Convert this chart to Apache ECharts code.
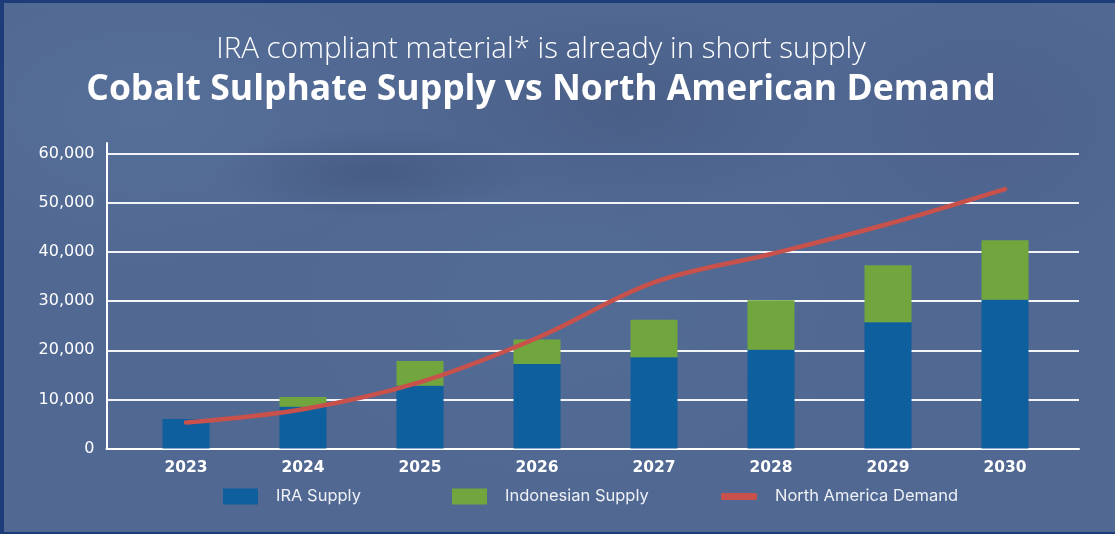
<!DOCTYPE html>
<html>
<head>
<meta charset="utf-8">
<script src="https://cdn.jsdelivr.net/npm/echarts@6/dist/echarts.min.js"></script>
<style>
  html, body { margin: 0; padding: 0; background: #506892; }
  body { width: 1115px; height: 534px; overflow: hidden; }
  #frame {
    position: relative;
    width: 1115px; height: 534px; box-sizing: border-box;
    border: 0 solid #1f3c7a;
    border-top-width: 3px; border-left-width: 4px; border-bottom-width: 2px; border-right-width: 0;
    background:
      radial-gradient(ellipse 160px 45px at 370px 170px, rgba(45,58,92,0.28), rgba(45,58,92,0) 100%),
      radial-gradient(ellipse 220px 110px at 620px 110px, rgba(50,62,100,0.22), rgba(50,62,100,0) 100%),
      radial-gradient(ellipse 260px 160px at 140px 110px, rgba(110,140,180,0.2), rgba(110,140,180,0) 100%),
      radial-gradient(ellipse 300px 200px at 560px 300px, rgba(95,125,165,0.18), rgba(95,125,165,0) 100%),
      radial-gradient(ellipse 200px 150px at 980px 120px, rgba(70,80,125,0.2), rgba(70,80,125,0) 100%),
      #506892;
  }
  #chart { position: absolute; left: -4px; top: -3px; width: 1115px; height: 534px; }
</style>
</head>
<body>
<div id="frame"><div id="chart"></div></div>
<script>
// Cobalt sulphate: supply by source vs North American demand (tonnes)
const years = ['2023', '2024', '2025', '2026', '2027', '2028', '2029', '2030'];
const iraSupply = [6000, 8500, 12800, 17200, 18600, 20100, 25700, 30300];
const indonesianSupply = [0, 2000, 5000, 5000, 7600, 10100, 11600, 12100];
const northAmericaDemand = [5300, 8000, 13500, 22500, 33800, 39600, 45700, 52800];
const yTicks = [0, 10000, 20000, 30000, 40000, 50000, 60000];

const subtitleText = 'IRA compliant material* is already in short supply';
const titleText = 'Cobalt Sulphate Supply vs North American Demand';
const seriesNames = ['IRA Supply', 'Indonesian Supply', 'North America Demand'];
const colors = { ira: '#0e5f9d', indo: '#71a63f', demand: '#c8514b' };

const W = 1115;
// value axis tops out a little above the last tick so the axis line overshoots it
const yMax = 62200;
const fontUI = 'Inter, "Noto Sans", sans-serif';
const fontAxis = '"DejaVu Sans", Inter, sans-serif';
const titleX = 541;

const chart = echarts.init(document.getElementById('chart'), null, { renderer: 'canvas' });

const yAxisBase = {
  type: 'value', min: 0, max: yMax, interval: 10000
};

const legendText = { color: '#eef1f6', fontFamily: fontUI, fontSize: 16.5, padding: [0, 0, 0, 13] };

const option = {
  backgroundColor: 'transparent',
  animation: false,
  title: [
    {
      text: subtitleText, left: titleX, textAlign: 'center', top: 35, padding: 0,
      textStyle: { color: '#ffffff', fontFamily: '"Open Sans", sans-serif', fontWeight: 300, fontSize: 29.5 }
    },
    {
      text: titleText, left: titleX, textAlign: 'center', top: 72, padding: 0,
      textStyle: { color: '#ffffff', fontFamily: '"Open Sans", sans-serif', fontWeight: 700, fontSize: 35.5 }
    }
  ],
  grid: [
    // frame grid: y axis, gridlines and baseline
    { left: 106.5, right: W - 1079, top: 143, bottom: 85.5 },
    // plot grid: bars and demand line
    { left: 127.5, right: W - 1063.5, top: 143, bottom: 85.5 }
  ],
  xAxis: [
    {
      gridIndex: 0, type: 'value', min: 0, max: 1,
      axisLine: { show: true, lineStyle: { color: '#ffffff', width: 2 } },
      axisTick: { show: false }, axisLabel: { show: false }, splitLine: { show: false }
    },
    {
      gridIndex: 1, type: 'category', data: years,
      axisLine: { show: false }, axisTick: { show: false },
      axisLabel: { color: '#ffffff', fontFamily: fontAxis, fontWeight: 'bold', fontSize: 15.5, margin: 11 }
    }
  ],
  yAxis: [
    Object.assign({}, yAxisBase, {
      gridIndex: 0,
      axisLine: { show: true, lineStyle: { color: '#ffffff', width: 2 } },
      axisTick: { show: false },
      axisLabel: {
        color: '#ffffff', fontFamily: fontAxis, fontSize: 16, margin: 12,
        showMaxLabel: false,
        formatter: v => yTicks.includes(v) ? v.toLocaleString('en-US') : ''
      },
      splitLine: { show: true, showMaxLine: false, lineStyle: { color: '#f2f4f8', width: 2 } }
    }),
    Object.assign({}, yAxisBase, {
      gridIndex: 1, show: false, splitLine: { show: false }
    })
  ],
  legend: [
    {
      data: [seriesNames[0]], left: 223, top: 488, padding: 0, itemWidth: 35, itemHeight: 16, icon: 'rect',
      textStyle: legendText
    },
    {
      data: [seriesNames[1]], left: 452, top: 488, padding: 0, itemWidth: 35, itemHeight: 16, icon: 'rect',
      textStyle: legendText
    },
    {
      data: [seriesNames[2]], left: 721, top: 488, padding: 0, itemWidth: 36, itemHeight: 7, icon: 'roundRect',
      textStyle: legendText
    }
  ],
  series: [
    {
      name: seriesNames[0], type: 'bar', stack: 'supply', xAxisIndex: 1, yAxisIndex: 1,
      barWidth: 47, data: iraSupply, itemStyle: { color: colors.ira }
    },
    {
      name: seriesNames[1], type: 'bar', stack: 'supply', xAxisIndex: 1, yAxisIndex: 1,
      barWidth: 47, data: indonesianSupply, itemStyle: { color: colors.indo }
    },
    {
      name: seriesNames[2], type: 'line', xAxisIndex: 1, yAxisIndex: 1,
      data: northAmericaDemand, smooth: 0.35, showSymbol: false, symbol: 'none',
      lineStyle: { color: colors.demand, width: 4.5, cap: 'round' },
      itemStyle: { color: colors.demand }, z: 5
    }
  ]
};

chart.setOption(option);
</script>
</body>
</html>
